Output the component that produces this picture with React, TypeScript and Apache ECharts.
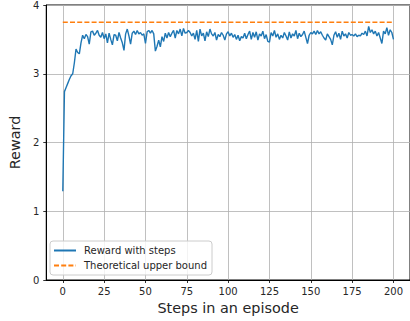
import React, { useEffect, useRef } from "react";
import * as echarts from "echarts";

const rewardWithSteps: number[] = [
  1.29, 2.74, 2.80, 2.86, 2.92, 2.97, 3.00, 3.16, 3.36, 3.31,
  3.29, 3.45, 3.56, 3.51, 3.57, 3.54, 3.43, 3.61, 3.62, 3.56,
  3.59, 3.63, 3.56, 3.53, 3.60, 3.51, 3.58, 3.45, 3.59, 3.50,
  3.42, 3.57, 3.56, 3.48, 3.60, 3.52, 3.45, 3.34, 3.58, 3.65,
  3.55, 3.43, 3.59, 3.62, 3.57, 3.63, 3.58, 3.60, 3.56, 3.58,
  3.44, 3.61, 3.63, 3.59, 3.63, 3.58, 3.33, 3.40, 3.49, 3.39,
  3.54, 3.47, 3.59, 3.52, 3.60, 3.54, 3.59, 3.63, 3.52, 3.63,
  3.58, 3.65, 3.55, 3.66, 3.59, 3.60, 3.63, 3.60, 3.55, 3.59,
  3.50, 3.63, 3.47, 3.65, 3.55, 3.59, 3.48, 3.61, 3.54, 3.65,
  3.58, 3.55, 3.60, 3.49, 3.57, 3.54, 3.60, 3.56, 3.49, 3.58,
  3.61, 3.55, 3.59, 3.53, 3.57, 3.50, 3.56, 3.48, 3.54, 3.52,
  3.59, 3.51, 3.57, 3.62, 3.50, 3.60, 3.53, 3.61, 3.49, 3.58,
  3.55, 3.62, 3.51, 3.57, 3.47, 3.46, 3.60, 3.55, 3.63, 3.53,
  3.58, 3.50, 3.56, 3.52, 3.60, 3.55, 3.49, 3.61, 3.52, 3.58,
  3.55, 3.63, 3.51, 3.59, 3.54, 3.57, 3.62, 3.53, 3.44, 3.56,
  3.60, 3.58, 3.62, 3.57, 3.63, 3.58, 3.61, 3.56, 3.52, 3.49,
  3.58, 3.54, 3.50, 3.42, 3.56, 3.61, 3.53, 3.59, 3.50, 3.62,
  3.55, 3.58, 3.52, 3.60, 3.56, 3.57, 3.55, 3.58, 3.54, 3.56,
  3.55, 3.59, 3.57, 3.62, 3.55, 3.69, 3.60, 3.64, 3.58, 3.62,
  3.55, 3.60, 3.52, 3.44, 3.62, 3.58, 3.67, 3.56, 3.64, 3.60,
  3.50,
];

const upperBound = 3.75;
const boundSteps: number[] = [0, 200];
const xTicks: number[] = [0, 25, 50, 75, 100, 125, 150, 175, 200];
const seriesNames: string[] = ["Reward with steps", "Theoretical upper bound"];

const FONT = "DejaVu Sans";

export default function App() {
  const ref = useRef<HTMLDivElement>(null);
  useEffect(() => {
    if (!ref.current) return;
    const chart = echarts.init(ref.current, undefined, { renderer: "svg" });
    const rewardData = rewardWithSteps.map((v, i) => [i, v]);
    const boundData = boundSteps.map((s) => [s, upperBound]);
    chart.setOption({
      animation: false,
      backgroundColor: "#ffffff",
      grid: {
        left: 44,
        right: -5,
        top: 5,
        bottom: 41,
        show: true,
        borderColor: "#000000",
        borderWidth: 1,
        backgroundColor: "transparent",
      },
      legend: {
        orient: "vertical",
        left: 50,
        top: 241,
        data: seriesNames,
        itemWidth: 22,
        itemHeight: 10,
        itemGap: 3,
        padding: [3.5, 5, 3.5, 3],
        backgroundColor: "rgba(255,255,255,0.8)",
        borderColor: "#cccccc",
        borderWidth: 1,
        borderRadius: 3,
        itemStyle: { opacity: 0 },
        textStyle: {
          fontFamily: FONT,
          fontSize: 10,
          color: "#262626",
          lineHeight: 12,
          padding: [0, 0, 0, 3],
        },
      },
      xAxis: {
        type: "value",
        min: -10,
        max: 210,
        name: "Steps in an episode",
        nameLocation: "middle",
        nameGap: 20,
        nameTextStyle: { fontFamily: FONT, fontSize: 14.4, color: "#262626" },
        axisLine: { show: true, onZero: false, lineStyle: { color: "#000", width: 1 } },
        axisTick: {
          show: true,
          length: 3,
          customValues: xTicks,
          lineStyle: { color: "#000", width: 0.8 },
        },
        axisLabel: {
          customValues: xTicks,
          fontFamily: FONT,
          fontSize: 10,
          color: "#262626",
          margin: 6,
        },
        splitLine: { show: true, lineStyle: { color: "#b0b0b0", width: 0.8 } },
      },
      yAxis: {
        type: "value",
        min: 0,
        max: 4,
        interval: 1,
        name: "Reward",
        nameLocation: "middle",
        nameRotate: 90,
        nameGap: 17,
        nameTextStyle: { fontFamily: FONT, fontSize: 14.4, color: "#262626" },
        axisLine: { show: true, onZero: false, lineStyle: { color: "#000", width: 1 } },
        axisTick: { show: true, length: 3, lineStyle: { color: "#000", width: 0.8 } },
        axisLabel: { fontFamily: FONT, fontSize: 10, color: "#262626", margin: 7 },
        splitLine: { show: true, lineStyle: { color: "#b0b0b0", width: 0.8 } },
      },
      series: [
        {
          name: seriesNames[0],
          type: "line",
          data: rewardData,
          symbol: "none",
          lineStyle: { color: "#1f77b4", width: 1.4 },
          itemStyle: { color: "#1f77b4" },
          z: 3,
        },
        {
          name: seriesNames[1],
          type: "line",
          data: boundData,
          symbol: "none",
          lineStyle: { color: "#ff7f0e", width: 1.4, type: [5, 2.2] },
          itemStyle: { color: "#ff7f0e" },
          z: 2,
        },
      ],
    });
    return () => chart.dispose();
  }, []);
  return (
    <div
      ref={ref}
      style={{ position: "fixed", left: 0, top: 0, width: 410, height: 321 }}
    />
  );
}
